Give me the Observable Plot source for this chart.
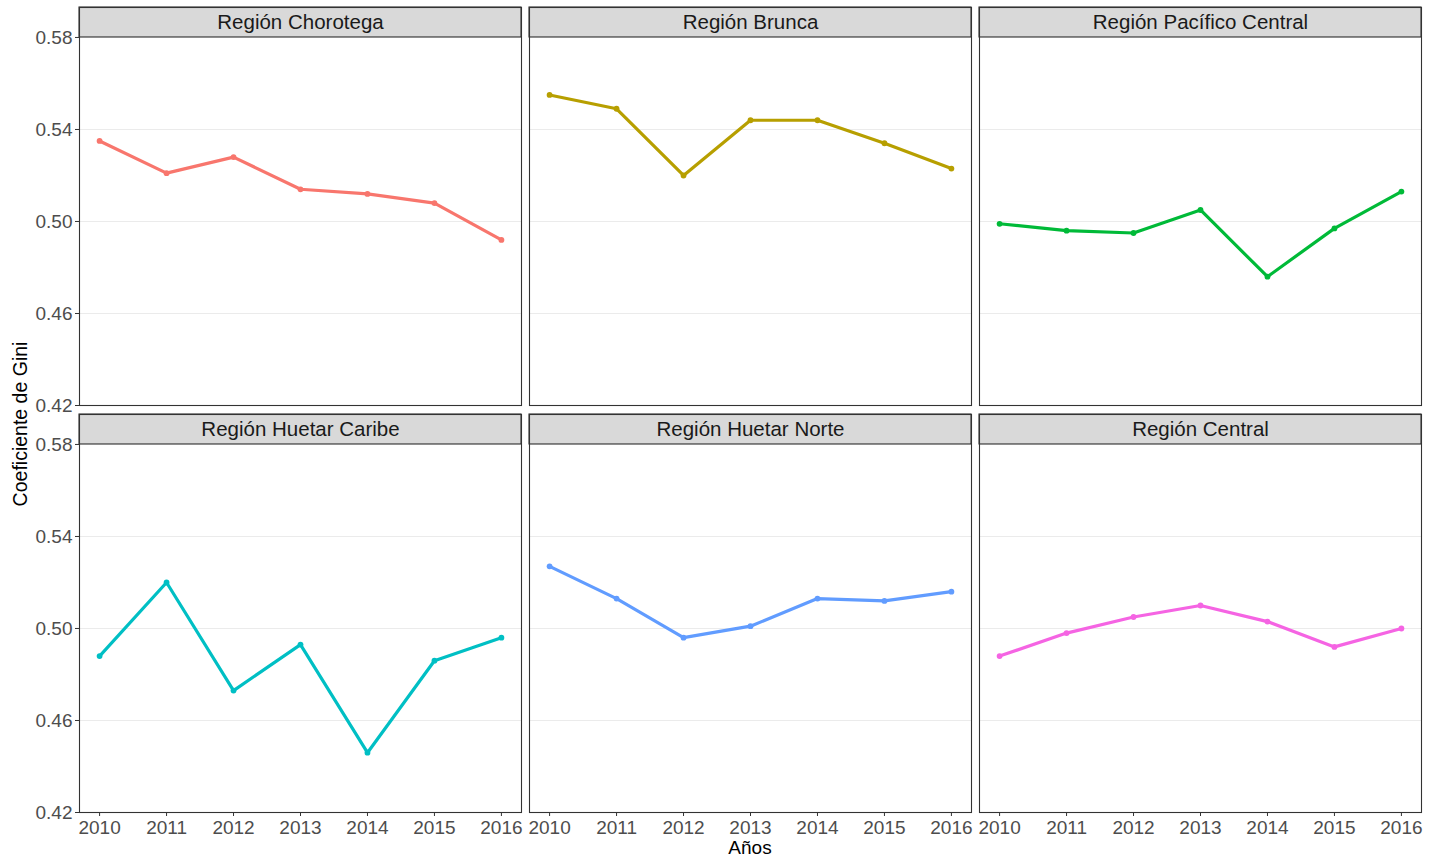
<!DOCTYPE html>
<html>
<head>
<meta charset="utf-8">
<script src="https://cdn.jsdelivr.net/npm/d3@7"></script>
<script src="https://cdn.jsdelivr.net/npm/@observablehq/plot@0.6"></script>
<style>
  html, body { margin: 0; padding: 0; background: #fff; }
  #chart { width: 1437px; height: 859px; }
</style>
</head>
<body>
<div id="chart"></div>
<script>
const regions = ["Región Chorotega", "Región Brunca", "Región Pacífico Central",
                 "Región Huetar Caribe", "Región Huetar Norte", "Región Central"];
const years = [2010, 2011, 2012, 2013, 2014, 2015, 2016];
const chorotega       = [0.535, 0.521, 0.528, 0.514, 0.512, 0.508, 0.492];
const brunca          = [0.555, 0.549, 0.520, 0.544, 0.544, 0.534, 0.523];
const pacificoCentral = [0.499, 0.496, 0.495, 0.505, 0.476, 0.497, 0.513];
const huetarCaribe    = [0.488, 0.520, 0.473, 0.493, 0.446, 0.486, 0.496];
const huetarNorte     = [0.527, 0.513, 0.496, 0.501, 0.513, 0.512, 0.516];
const central         = [0.488, 0.498, 0.505, 0.510, 0.503, 0.492, 0.500];
const colors = ["#F8766D", "#B79F00", "#00BA38", "#00BFC4", "#619CFF", "#F564E3"];
const yTicks = [0.42, 0.46, 0.50, 0.54, 0.58];
const xLabel = "Años";
const yLabel = "Coeficiente de Gini";

const series = [chorotega, brunca, pacificoCentral, huetarCaribe, huetarNorte, central];

const rows = [];
series.forEach((vals, i) => {
  vals.forEach((v, j) => rows.push({
    region: regions[i], year: years[j], gini: v, col: i % 3, row: Math.floor(i / 3)
  }));
});
const panels = regions.map((name, i) => ({name, col: i % 3, row: Math.floor(i / 3)}));

// layout
const W = 1437, H = 859;
const mL = 79, mR = 16, mT = 7, mB = 46;
const gapX = 8, gapY = 9, stripPx = 30;
const panelW = (W - mL - mR - 2 * gapX) / 3;
const panelH = (H - mT - mB - gapY) / 2;
const yMin = 0.42, yMax = 0.58;
const yTop = yMax + (yMax - yMin) * stripPx / (panelH - stripPx);

const chart = Plot.plot({
  width: W, height: H,
  marginLeft: mL, marginRight: mR, marginTop: mT, marginBottom: mB,
  style: {fontFamily: "'Liberation Sans', Arial, sans-serif", fontSize: "19px", background: "#fff"},
  fx: {domain: [0, 1, 2], paddingInner: gapX / (panelW + gapX), paddingOuter: 0, axis: null},
  fy: {domain: [0, 1], paddingInner: gapY / (panelH + gapY), paddingOuter: 0, axis: null},
  x: {domain: [2009.7, 2016.3]},
  y: {domain: [yMin, yTop]},
  color: {domain: regions, range: colors},
  marks: [
    Plot.ruleY(yTicks, {stroke: "#EBEBEB", strokeWidth: 1}),
    Plot.line(rows, {x: "year", y: "gini", stroke: "region", fx: "col", fy: "row",
                     strokeWidth: 3.2, strokeLinejoin: "round", strokeLinecap: "butt"}),
    Plot.dot(rows, {x: "year", y: "gini", fill: "region", fx: "col", fy: "row", r: 2.9, stroke: "none"}),
    Plot.rect(panels, {fx: "col", fy: "row", y1: () => yMax, y2: () => yTop,
                       fill: "#D9D9D9", stroke: "#333333", strokeWidth: 1.1}),
    Plot.text(panels, {fx: "col", fy: "row", text: "name", frameAnchor: "top", dy: stripPx / 2,
                       lineAnchor: "middle", fontSize: 20.5, fill: "#1A1A1A"}),
    Plot.frame({stroke: "#333333", strokeWidth: 1.1}),
    Plot.axisY({facetAnchor: "left", ticks: yTicks, tickFormat: d3.format(".2f"),
                tickSize: 4, tickPadding: 3, fontSize: 19, stroke: "#333333", fill: "#4D4D4D", label: null}),
    Plot.axisX({facetAnchor: "bottom", ticks: years, tickFormat: d3.format("d"),
                tickSize: 4, tickPadding: 4, fontSize: 19, stroke: "#333333", fill: "#4D4D4D", label: null})
  ]
});

const svg = d3.select(chart);
svg.append("text")
  .attr("x", mL + (W - mL - mR) / 2).attr("y", 854)
  .attr("text-anchor", "middle").attr("font-size", 19).attr("fill", "#000")
  .text(xLabel);
svg.append("text")
  .attr("transform", `translate(27, 424) rotate(-90)`)
  .attr("text-anchor", "middle").attr("font-size", 19.5).attr("fill", "#000")
  .text(yLabel);

document.getElementById("chart").appendChild(chart);
</script>
</body>
</html>
